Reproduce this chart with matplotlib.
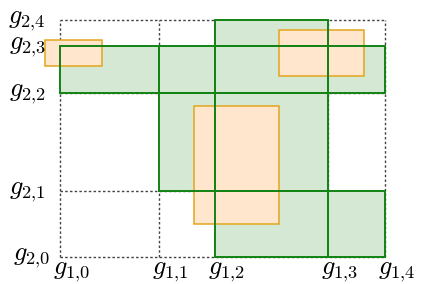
import matplotlib
matplotlib.use('Agg')
import matplotlib.pyplot as plt
from matplotlib.patches import Rectangle

plt.rcParams['mathtext.fontset'] = 'cm'

# grid positions (g1 along x, g2 along y)
g1 = [0.0, 1.75, 2.75, 4.75, 5.76]
g2 = [0.0, 1.17, 2.9, 3.73, 4.19]
g1_labels = [r'$g_{1{,}%d}$' % i for i in range(len(g1))]
g2_labels = [r'$g_{2{,}%d}$' % j for j in range(len(g2))]

# occupied cells (column index, row index)
green_cells = [(0, 2), (1, 2), (2, 2), (3, 2),
               (2, 0), (2, 1), (2, 3),
               (1, 1), (3, 0)]

# boxes: (x0, y0, x1, y1)
boxes = [(-0.27, 3.38, 0.74, 3.84),
         (3.88, 3.20, 5.38, 4.02),
         (2.37, 0.58, 3.88, 2.67)]

PX = 56.5  # pixels per data unit

fig = plt.figure(figsize=(4.22, 2.84), dpi=100)
ax = fig.add_axes([0, 0, 1, 1])
ax.set_xlim(-60 / PX, 362 / PX)
ax.set_ylim(-27 / PX, 257 / PX)
ax.axis('off')

# dotted grid
for x in g1:
    ax.plot([x, x], [g2[0], g2[-1]], color='#444444', lw=1, ls=(0, (1.8, 1.6)), zorder=0)
for y in g2:
    ax.plot([g1[0], g1[-1]], [y, y], color='#444444', lw=1, ls=(0, (1.8, 1.6)), zorder=0)

# green cells: fill first, edges on top
for i, j in green_cells:
    x0, x1 = g1[i], g1[i + 1]
    y0, y1 = g2[j], g2[j + 1]
    ax.add_patch(Rectangle((x0, y0), x1 - x0, y1 - y0, facecolor='#d5e8d4',
                           edgecolor='none', zorder=1))
    ax.add_patch(Rectangle((x0, y0), x1 - x0, y1 - y0, facecolor='none',
                           edgecolor='#138313', lw=1.4, zorder=3))

for x0, y0, x1, y1 in boxes:
    ax.add_patch(Rectangle((x0, y0), x1 - x0, y1 - y0, facecolor='#ffe6cc',
                           edgecolor='#e2a61c', lw=1.1, zorder=2))

for x, lab in zip(g1, g1_labels):
    ax.text(x - 7 / PX, -27 / PX, lab, ha='left', va='bottom', fontsize=19)
for y, lab in zip(g2, g2_labels):
    dx = 50 if y == g2[0] else 46
    ax.text((dx - 60) / PX, y, lab, ha='right', va='center', fontsize=19)

fig.savefig('out.png', dpi=100)
